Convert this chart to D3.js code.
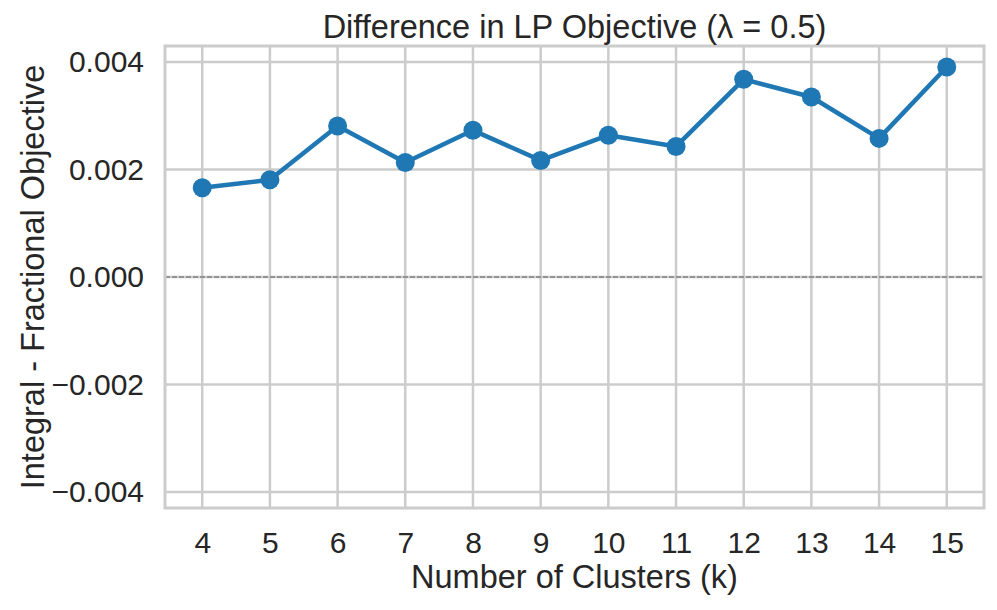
<!DOCTYPE html>
<html>
<head>
<meta charset="utf-8">
<script src="https://cdn.jsdelivr.net/npm/d3@7"></script>
<style>
  body { margin: 0; background: #fff; }
  text { font-family: "Liberation Sans", Arial, sans-serif; fill: #262626; }
</style>
</head>
<body>
<div class="chart"></div>
<script>
// data
var clusters = [4, 5, 6, 7, 8, 9, 10, 11, 12, 13, 14, 15];
var diffValues = [0.00166, 0.00181, 0.00281, 0.00213, 0.00273, 0.00217, 0.00264, 0.00243, 0.00368, 0.00335, 0.00258, 0.00391];
var yTicks = [-0.004, -0.002, 0, 0.002, 0.004];

var width = 997, height = 610;
var margin = { left: 165, right: 13, top: 46, bottom: 102 };

var svg = d3.select(".chart")
  .append("svg")
  .attr("width", width)
  .attr("height", height);

var x = d3.scaleLinear()
  .domain([3.45, 15.55])
  .range([margin.left, width - margin.right]);

var y = d3.scaleLinear()
  .domain([-0.0043, 0.0043])
  .range([height - margin.bottom, margin.top]);

// grid
var grid = svg.append("g");
grid.selectAll(".vgrid")
  .data(clusters)
  .enter()
  .append("line")
  .attr("x1", function (d) { return x(d); })
  .attr("x2", function (d) { return x(d); })
  .attr("y1", y.range()[0])
  .attr("y2", y.range()[1])
  .attr("stroke", "#cccccc")
  .attr("stroke-width", 2.5);

grid.selectAll(".hgrid")
  .data(yTicks)
  .enter()
  .append("line")
  .attr("x1", x.range()[0])
  .attr("x2", x.range()[1])
  .attr("y1", function (d) { return y(d); })
  .attr("y2", function (d) { return y(d); })
  .attr("stroke", "#cccccc")
  .attr("stroke-width", 2.5);

// zero line
svg.append("line")
  .attr("x1", x.range()[0])
  .attr("x2", x.range()[1])
  .attr("y1", y(0))
  .attr("y2", y(0))
  .attr("stroke", "#808080")
  .attr("stroke-width", 1.4)
  .attr("stroke-dasharray", "5,2");

// frame
svg.append("rect")
  .attr("x", x.range()[0])
  .attr("y", y.range()[1])
  .attr("width", x.range()[1] - x.range()[0])
  .attr("height", y.range()[0] - y.range()[1])
  .attr("fill", "none")
  .attr("stroke", "#cccccc")
  .attr("stroke-width", 3);

// axes (text only, matplotlib style)
var xAxis = svg.append("g")
  .attr("transform", "translate(0," + y.range()[0] + ")")
  .call(d3.axisBottom(x).tickValues(clusters).tickSize(0).tickPadding(24).tickFormat(d3.format("d")));
xAxis.select(".domain").remove();
xAxis.selectAll("text").attr("font-size", 30).attr("fill", "#262626");

var yAxis = svg.append("g")
  .attr("transform", "translate(" + x.range()[0] + ",0)")
  .call(d3.axisLeft(y).tickValues(yTicks).tickSize(0).tickPadding(21).tickFormat(d3.format(".3f")));
yAxis.select(".domain").remove();
yAxis.selectAll("text").attr("font-size", 30).attr("fill", "#262626");

// line + markers
var line = d3.line()
  .x(function (d, i) { return x(clusters[i]); })
  .y(function (d) { return y(d); });

svg.append("path")
  .datum(diffValues)
  .attr("d", line)
  .attr("fill", "none")
  .attr("stroke", "#1f77b4")
  .attr("stroke-width", 4.5)
  .attr("stroke-linejoin", "round");

svg.selectAll(".dot")
  .data(diffValues)
  .enter()
  .append("circle")
  .attr("cx", function (d, i) { return x(clusters[i]); })
  .attr("cy", function (d) { return y(d); })
  .attr("r", 9.5)
  .attr("fill", "#1f77b4");

// labels
svg.append("text")
  .attr("x", (x.range()[0] + x.range()[1]) / 2)
  .attr("y", 38)
  .attr("text-anchor", "middle")
  .attr("font-size", 32.5)
  .text("Difference in LP Objective (λ = 0.5)");

svg.append("text")
  .attr("x", (x.range()[0] + x.range()[1]) / 2)
  .attr("y", 588)
  .attr("text-anchor", "middle")
  .attr("font-size", 32.5)
  .text("Number of Clusters (k)");

svg.append("text")
  .attr("transform", "translate(44," + ((y.range()[0] + y.range()[1]) / 2) + ") rotate(-90)")
  .attr("text-anchor", "middle")
  .attr("font-size", 32.5)
  .text("Integral - Fractional Objective");
</script>
</body>
</html>
